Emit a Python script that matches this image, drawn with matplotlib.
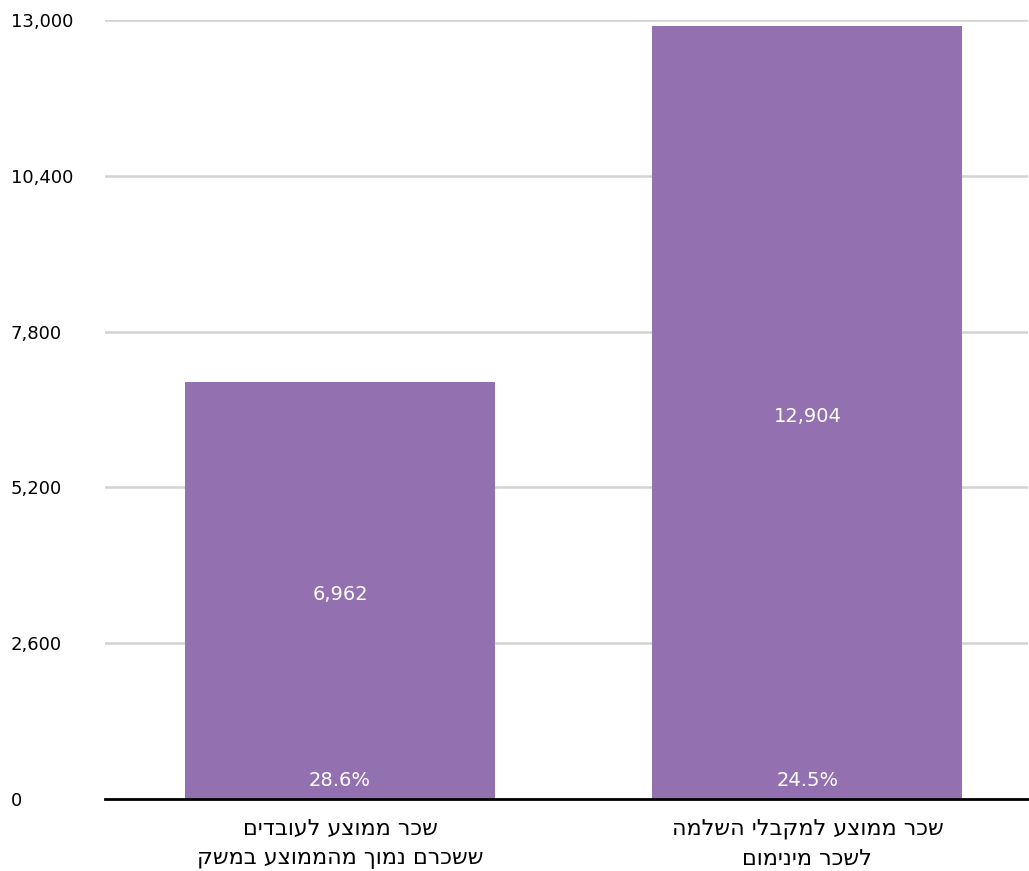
import matplotlib.pyplot as plt
from matplotlib.ticker import FuncFormatter

# data
categories = [
    ["שכר ממוצע לעובדים", "ששכרם נמוך מהממוצע במשק"],
    ["שכר ממוצע למקבלי השלמה", "לשכר מינימום"],
]
wages = [6962, 12904]
shares = ["28.6%", "24.5%"]
y_ticks = [0, 2600, 5200, 7800, 10400, 13000]

bar_color = "#9370b0"
grid_color = "#d3d3d3"


# matplotlib has no bidi support, so hebrew lines are flipped by hand
def rtl(lines):
    return "\n".join(l[::-1] for l in lines)


fig = plt.figure(figsize=(10.29, 8.71), dpi=100)
ax = fig.add_axes([105 / 1029, 1 - 799 / 871, 923 / 1029, 779 / 871])

x = list(range(len(wages)))
ax.bar(x, wages, width=0.663, color=bar_color, zorder=3)

for i, (w, s) in enumerate(zip(wages, shares)):
    ax.annotate(f"{w:,}", (i, w / 2), xytext=(0, -3), textcoords="offset points",
                color="white", ha="center", va="center", fontsize=14, zorder=4)
    ax.annotate(s, (i, 0), xytext=(0, 13), textcoords="offset points",
                color="white", ha="center", va="center", fontsize=14, zorder=4)

ax.set_xlim(-0.503, 1.472)
ax.set_ylim(0, 13000)
ax.set_yticks(y_ticks)
ax.yaxis.set_major_formatter(FuncFormatter(lambda v, p: f"{int(v):,}"))
ax.set_xticks(x)
ax.set_xticklabels([rtl(c) for c in categories], fontsize=16, linespacing=1.6)

ax.grid(axis="y", color=grid_color, linewidth=1.8, zorder=0)
ax.tick_params(axis="both", length=0)
ax.tick_params(axis="x", pad=14, labelsize=16)
ax.tick_params(axis="y", pad=68, labelsize=13)
for lbl in ax.get_yticklabels():
    lbl.set_horizontalalignment("left")

for side in ["top", "right", "left"]:
    ax.spines[side].set_visible(False)
ax.spines["bottom"].set_linewidth(2)
ax.spines["bottom"].set_zorder(5)

fig.savefig("out.png", dpi=100)
plt.close()
